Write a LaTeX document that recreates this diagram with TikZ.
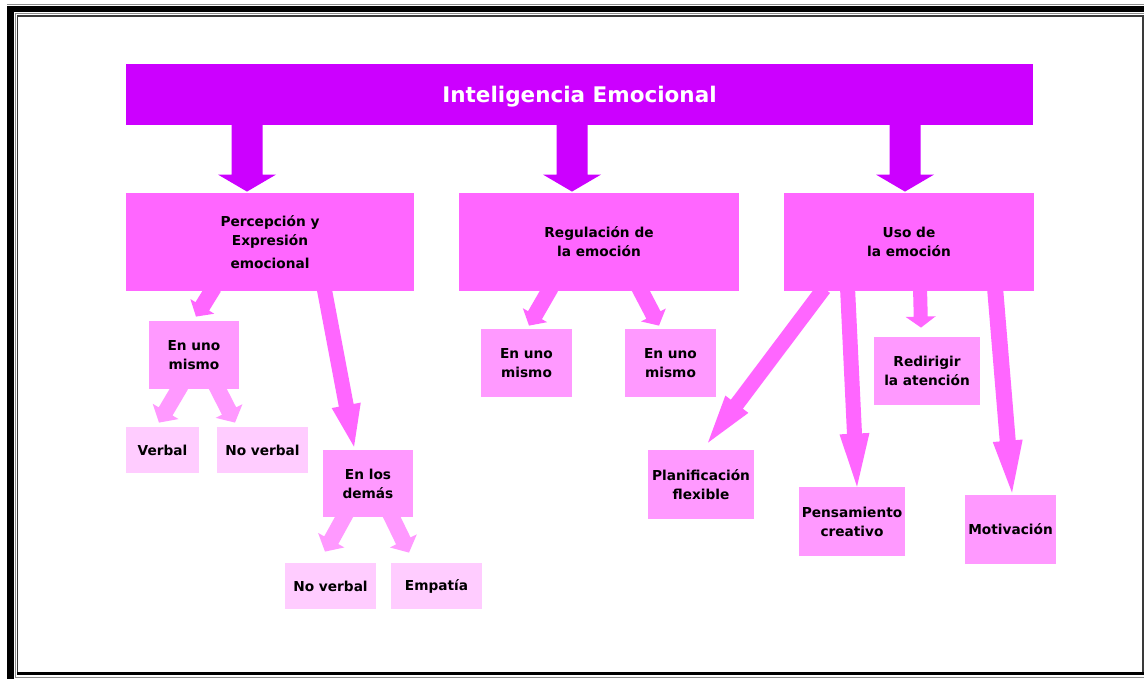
\documentclass[tikz,border=0pt]{standalone}
\usepackage{fontspec}
\setmainfont{DejaVu Sans}
\usetikzlibrary{calc}

\definecolor{iepurple}{HTML}{CC00FF}
\definecolor{lvlone}{HTML}{FF66FF}
\definecolor{lvltwo}{HTML}{FF99FF}
\definecolor{lvlthree}{HTML}{FFCCFF}
\definecolor{framegray}{HTML}{8C8C8C}
\definecolor{framedark}{HTML}{3A3A3A}

\pgfdeclarelayer{back}
\pgfsetlayers{back,main}

% Block arrow: #1 colour, #2 start, #3 tip, #4 shaft half width,
% #5 head half width, #6 head length
\newcommand{\fatarrow}[6]{%
  \coordinate (fab) at ($(#3)!#6!(#2)$);
  \fill[#1] ($(#2)!#4!90:(#3)$) -- ($(fab)!#4!90:(#3)$) -- ($(fab)!#5!90:(#3)$)
    -- (#3) -- ($(fab)!#5!-90:(#3)$) -- ($(fab)!#4!-90:(#3)$)
    -- ($(#2)!#4!-90:(#3)$) -- cycle;
}

\begin{document}
\begin{tikzpicture}[x=0.5pt,y=-0.5pt,
  card/.style={rectangle, inner sep=0pt, align=center, text=black,
    font=\bfseries\fontsize{6.85pt}{9.5pt}\selectfont},
  sz/.style 2 args={minimum width=#1*0.5pt, minimum height=#2*0.5pt},
  headcard/.style={card, fill=iepurple, text=white, text depth=0pt,
    font=\bfseries\fontsize{10.75pt}{13pt}\selectfont},
  topcard/.style={card, fill=lvlone},
  midcard/.style={card, fill=lvltwo},
  leafcard/.style={card, fill=lvlthree},
  thinrule/.style={line width=0.6pt, draw=framegray},
  darkrule/.style={line width=0.8pt, draw=framedark},
]
\useasboundingbox (0,0) rectangle (1144,679);
\begin{pgfonlayer}{back}
\fill[white] (0,0) rectangle (1144,679);
\end{pgfonlayer}

% page frame
\draw[thinrule] (7,4.8) -- (1144,4.8);
\fill[black] (7,6) rectangle (1144,12.3);
\fill[black] (7,6) rectangle (14,679);
\draw[thinrule] (1144,13.3) -- (15.3,13.3) -- (15.3,677.3) -- (1144,677.3);
\draw[darkrule] (17.5,672) -- (17.5,16.3) -- (1142.7,16.3) -- (1142.7,672);
\fill[black] (17,672) rectangle (1144,675);

% boxes
\node[headcard, sz={907}{61}] (title) at (579.5,94.5) {Inteligencia Emocional};

\node[topcard, sz={288}{98}] (pe) at (270,242) {Percepción y\\Expresión\\[2pt]emocional};
\node[topcard, sz={280}{98}] (reg) at (599,242) {Regulación de\\la emoción};
\node[topcard, sz={250}{98}] (uso) at (909,242) {Uso de\\la emoción};

\node[midcard, sz={90}{68}] (peuno) at (194,355) {En uno\\mismo};
\node[midcard, sz={90}{67}] (pedem) at (368,483.5) {En los\\demás};
\node[midcard, sz={91}{68}] (reguno) at (526.5,363) {En uno\\mismo};
\node[midcard, sz={91}{68}] (regdos) at (670.5,363) {En uno\\mismo};
\node[midcard, sz={106}{68}] (redir) at (927,371) {Redirigir\\la atención};
\node[midcard, sz={106}{69}] (plan) at (701,484.5) {Planificación\\flexible};
\node[midcard, sz={106}{69}] (pens) at (852,521.5) {Pensamiento\\creativo};
\node[midcard, sz={91}{69}] (motiv) at (1010.5,529.5) {Motivación};

\node[leafcard, sz={73}{46}] (verbal) at (162.5,450) {Verbal};
\node[leafcard, sz={91}{46}] (noverbal) at (262.5,450) {No verbal};
\node[leafcard, sz={91}{46}] (noverbaldem) at (330.5,586) {No verbal};
\node[leafcard, sz={91}{46}] (empatia) at (436.5,586) {Empatía};

% arrow end points
\coordinate (t1s) at ($(title.south)+(-332.5,-4)$);
\coordinate (t1t) at ($(pe.north)+(-23,-1)$);
\coordinate (t2s) at ($(title.south)+(-7.5,-4)$);
\coordinate (t2t) at ($(reg.north)+(-27,-1)$);
\coordinate (t3s) at ($(title.south)+(325.5,-4)$);
\coordinate (t3t) at ($(uso.north)+(-4,-1)$);

\coordinate (pa1s) at ($(pe.south)+(-56,-4)$);
\coordinate (pa1t) at ($(peuno.north)+(2,-4)$);
\coordinate (pa2s) at ($(pe.south)+(54,-4)$);
\coordinate (pa2t) at ($(pedem.north)+(-14,-3)$);

\coordinate (rb1s) at ($(reg.south)+(-48,-4)$);
\coordinate (rb1t) at ($(reguno.north)+(2.5,-3)$);
\coordinate (rb2s) at ($(reg.south)+(40,-4)$);
\coordinate (rb2t) at ($(regdos.north)+(-11.5,-3)$);

\coordinate (uc1s) at ($(uso.south)+(-85,-3)$);
\coordinate (uc1t) at ($(plan.north)+(7,-7)$);
\coordinate (uc2s) at ($(uso.south)+(-61.5,-4)$);
\coordinate (uc2t) at ($(pens.north)+(5,0)$);
\coordinate (uc3s) at ($(uso.south)+(11,-4)$);
\coordinate (uc3t) at ($(redir.north)+(-6,-9)$);
\coordinate (uc4s) at ($(uso.south)+(86,-4)$);
\coordinate (uc4t) at ($(motiv.north)+(1.5,-2)$);

\coordinate (u1s) at ($(peuno.south)+(-13,-4)$);
\coordinate (u1t) at ($(verbal.north)+(-3.5,-4)$);
\coordinate (u2s) at ($(peuno.south)+(22,-4)$);
\coordinate (u2t) at ($(noverbal.north)+(-27.5,-4)$);
\coordinate (d1s) at ($(pedem.south)+(-22,-4)$);
\coordinate (d1t) at ($(noverbaldem.north)+(-5.5,-11)$);
\coordinate (d2s) at ($(pedem.south)+(22,-4)$);
\coordinate (d2t) at ($(empatia.north)+(-27.5,-10)$);

% connectors, behind the boxes
\begin{pgfonlayer}{back}
\fatarrow{iepurple}{t1s}{t1t}{7.75pt}{14.5pt}{8.5pt}
\fatarrow{iepurple}{t2s}{t2t}{7.75pt}{14.5pt}{8.5pt}
\fatarrow{iepurple}{t3s}{t3t}{7.75pt}{14.5pt}{8.5pt}

\fatarrow{lvlone}{pa1s}{pa1t}{4pt}{7pt}{6pt}
\fatarrow{lvlone}{pa2s}{pa2t}{3.75pt}{7.4pt}{21pt}
\fatarrow{lvlone}{rb1s}{rb1t}{4pt}{7pt}{6pt}
\fatarrow{lvlone}{rb2s}{rb2t}{4pt}{7pt}{6pt}
\fatarrow{lvlone}{uc1s}{uc1t}{3.75pt}{7.2pt}{24pt}
\fatarrow{lvlone}{uc2s}{uc2t}{3.75pt}{7.5pt}{26.5pt}
\fatarrow{lvlone}{uc3s}{uc3t}{3.5pt}{7.5pt}{5.5pt}
\fatarrow{lvlone}{uc4s}{uc4t}{4pt}{7.5pt}{26pt}

\fatarrow{lvltwo}{u1s}{u1t}{4pt}{7.5pt}{6.5pt}
\fatarrow{lvltwo}{u2s}{u2t}{4pt}{7.5pt}{6.5pt}
\fatarrow{lvltwo}{d1s}{d1t}{4pt}{7.5pt}{6.5pt}
\fatarrow{lvltwo}{d2s}{d2t}{4pt}{7.5pt}{6.5pt}
\end{pgfonlayer}
\end{tikzpicture}
\end{document}
